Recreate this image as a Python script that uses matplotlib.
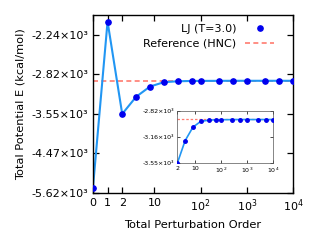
import numpy as np
import matplotlib
matplotlib.use("Agg")
import matplotlib.pyplot as plt
from matplotlib.ticker import FixedLocator, FixedFormatter, NullLocator

# perturbation order vs total potential energy (kcal/mol)
orders = [0, 1, 2, 4, 8, 16, 32, 64, 100, 250, 500, 1000, 2500, 5000, 10000]
energy = [-5470, -2072, -3549, -3212, -3026, -2950, -2934, -2929, -2928,
          -2927, -2926, -2926, -2926, -2926, -2926]
ref_energy = -2925

x_ticks = [0, 1, 2, 10, 100, 1000, 10000]
x_labels = ["0", "1", "2", "10", r"$10^{2}$", r"$10^{3}$", r"$10^{4}$"]
y_ticks = [-10 ** e for e in (3.75, 3.65, 3.55, 3.45, 3.35)]
inset_x_ticks = [2, 10, 100, 1000, 10000]
inset_x_labels = ["2", "10", r"$10^{2}$", r"$10^{3}$", r"$10^{4}$"]
inset_y_ticks = [-10 ** e for e in (3.55, 3.5, 3.45)]

K = 3.15  # linear units per decade past x=2


def fwd_x(x):
    x = np.asarray(x, dtype=float)
    return np.where(x <= 2, x, 2 + K * np.log10(np.maximum(x, 2) / 2))


def inv_x(u):
    u = np.asarray(u, dtype=float)
    return np.where(u <= 2, u, 2 * 10 ** ((np.maximum(u, 2) - 2) / K))


def fwd_y(y):
    y = np.asarray(y, dtype=float)
    return -np.log10(np.maximum(-y, 1e-9))


def inv_y(u):
    return -10 ** (-np.asarray(u, dtype=float))


def ylab(v):
    return "%.2f×10³" % (v / 1000)


plt.rcParams['font.family'] = 'DejaVu Sans'
plt.rcParams['xtick.direction'] = 'in'
plt.rcParams['ytick.direction'] = 'in'

fig = plt.figure(figsize=(3.16, 2.43), dpi=100)
ax = fig.add_axes([0.294, 0.206, 0.633, 0.732])

line_col = '#2196f3'
dot_col = '#0000ee'
ref_col = '#ff7b70'

ax.axhline(ref_energy, color=ref_col, lw=1.2, ls=(0, (3, 2)), label='Reference (HNC)', zorder=1)
ax.plot(orders, energy, color=line_col, lw=1.5, zorder=2)
ax.plot(orders, energy, 'o', color=dot_col, ms=3.8, label='LJ (T=3.0)', zorder=3)

ax.set_xscale('function', functions=(fwd_x, inv_x))
ax.set_yscale('function', functions=(fwd_y, inv_y))
ax.set_xlim(0, 10000)
ax.set_ylim(-10 ** 3.75, -10 ** 3.3)
ax.xaxis.set_major_locator(FixedLocator(x_ticks))
ax.xaxis.set_major_formatter(FixedFormatter(x_labels))
ax.xaxis.set_minor_locator(NullLocator())
ax.yaxis.set_major_locator(FixedLocator(y_ticks))
ax.yaxis.set_major_formatter(FixedFormatter([ylab(v) for v in y_ticks]))
ax.yaxis.set_minor_locator(NullLocator())
ax.tick_params(top=True, right=True, length=4, width=0.9, labelsize=8)
for s in ax.spines.values():
    s.set_linewidth(1.0)

ax.set_xlabel('Total Perturbation Order', fontsize=8.2)
ax.set_ylabel('Total Potential E (kcal/mol)', fontsize=8.2)

h, l = ax.get_legend_handles_labels()
ax.legend(h[::-1], l[::-1], loc='upper right', frameon=False, markerfirst=False,
          fontsize=8, handlelength=2.6, labelspacing=0.45, borderaxespad=0.4,
          bbox_to_anchor=(0.95, 1.0))

# inset
ins = fig.add_axes([0.561, 0.328, 0.304, 0.215])
ins.axhline(ref_energy, color=ref_col, lw=0.9, ls=(0, (2, 1.5)), zorder=1)
ins.plot(orders[2:], energy[2:], color=line_col, lw=1.2, zorder=2)
ins.plot(orders[2:], energy[2:], 'o', color=dot_col, ms=2.5, zorder=3)
ins.set_xscale('log')
ins.set_yscale('function', functions=(fwd_y, inv_y))
ins.set_xlim(2, 10000)
ins.set_ylim(-10 ** 3.55, -10 ** 3.45)
ins.xaxis.set_major_locator(FixedLocator(inset_x_ticks))
ins.xaxis.set_major_formatter(FixedFormatter(inset_x_labels))
ins.xaxis.set_minor_locator(NullLocator())
ins.yaxis.set_major_locator(FixedLocator(inset_y_ticks))
ins.yaxis.set_major_formatter(FixedFormatter([ylab(v) for v in inset_y_ticks]))
ins.yaxis.set_minor_locator(NullLocator())
ins.tick_params(top=True, right=True, length=2, width=0.5, labelsize=4.5, pad=2)
for s in ins.spines.values():
    s.set_linewidth(0.5)
    s.set_color('#555555')

fig.savefig('out.png', dpi=100)
